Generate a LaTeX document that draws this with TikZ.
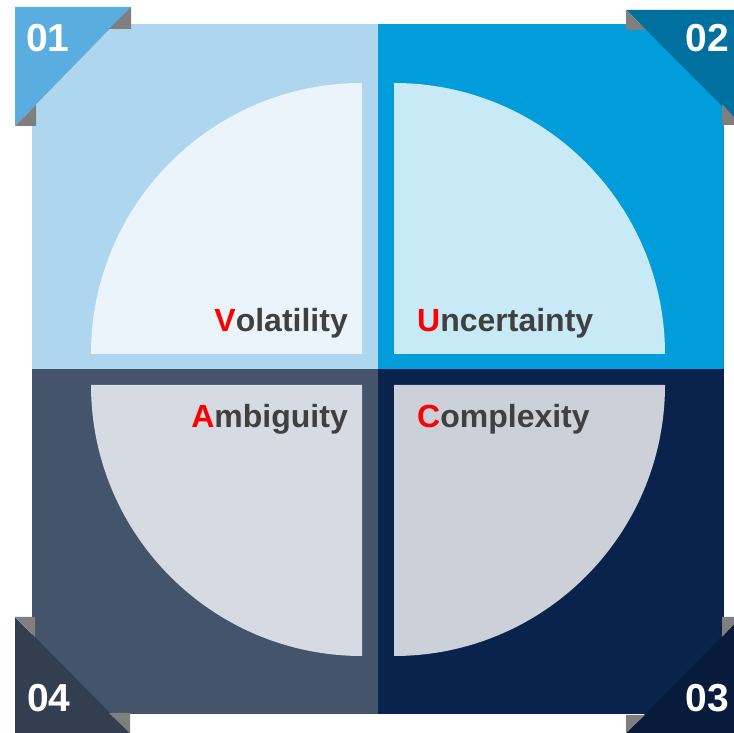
\documentclass[tikz,border=0pt]{standalone}
\usepackage{fontspec}
\setmainfont{Liberation Sans}
\usepackage{xcolor}
\definecolor{volbg}{HTML}{AED7EF}
\definecolor{volfg}{HTML}{EBF4FB}
\definecolor{volcn}{HTML}{5AAEDF}
\definecolor{uncbg}{HTML}{009DDA}
\definecolor{uncfg}{HTML}{C8E9F6}
\definecolor{unccn}{HTML}{00719F}
\definecolor{cplbg}{HTML}{0A234C}
\definecolor{cplfg}{HTML}{CBD0D9}
\definecolor{cplcn}{HTML}{081B3A}
\definecolor{ambbg}{HTML}{44546A}
\definecolor{ambfg}{HTML}{D6DAE2}
\definecolor{ambcn}{HTML}{333F50}
\definecolor{foldgray}{HTML}{7F7F7F}
\definecolor{wordgray}{HTML}{404040}
\tikzset{
  word/.style={font=\bfseries\fontsize{32}{36}\selectfont, text=wordgray, inner sep=0pt},
  num/.style={font=\bfseries\fontsize{39}{44}\selectfont, text=white, inner sep=0pt, anchor=base},
  fold/.style={fill=foldgray},
}
\newcommand{\first}[1]{\textcolor{red}{#1}}

\begin{document}
\begin{tikzpicture}[x=1pt,y=1pt]
\useasboundingbox (0,0) rectangle (734,733);
% V: upper left
\begin{scope}
\fill[volbg] (32,364) rectangle (378,709);
\fill[volfg] (362,379) -- ++(180:271) arc[start angle=180, end angle=90, radius=271] -- cycle;
\end{scope}

% U: upper right
\begin{scope}
\fill[uncbg] (378,364) rectangle (724,709);
\fill[uncfg] (394,379) -- ++(0:271) arc[start angle=0, end angle=90, radius=271] -- cycle;
\end{scope}

% C: lower right
\begin{scope}
\fill[cplbg] (378,19) rectangle (724,364);
\fill[cplfg] (394,348) -- ++(0:271) arc[start angle=0, end angle=-90, radius=271] -- cycle;
\end{scope}

% A: lower left
\begin{scope}
\fill[ambbg] (32,19) rectangle (378,364);
\fill[ambfg] (362,348) -- ++(180:271) arc[start angle=180, end angle=270, radius=271] -- cycle;
\end{scope}

% corner ribbons
\fill[volcn] (15,726) -- (131,726) -- (15,607) -- cycle;
\fill[fold] (131,726) -- (131,704) -- (109,704) -- cycle;
\fill[fold] (15,607) -- (36,607) -- (36,628) -- cycle;

\fill[unccn] (741,723) -- (626,723) -- (741,608) -- cycle;
\fill[fold] (626,723) -- (626,703) -- (646,703) -- cycle;
\fill[fold] (741,608) -- (722,608) -- (722,629) -- cycle;

\fill[cplcn] (741,0) -- (626,0) -- (741,116) -- cycle;
\fill[fold] (626,0) -- (626,18) -- (645,18) -- cycle;
\fill[fold] (741,116) -- (722,116) -- (722,96) -- cycle;

\fill[ambcn] (15,0) -- (130,0) -- (15,116) -- cycle;
\fill[fold] (130,0) -- (130,20) -- (109,20) -- cycle;
\fill[fold] (15,116) -- (35,116) -- (35,96) -- cycle;

% numbers
\node[num] (n1) at (48,681) {01};
\node[num] (n2) at (707,681) {02};
\node[num] (n3) at (707,21) {03};
\node[num] (n4) at (49,21) {04};

% words
\node[word, anchor=base east] (vol) at (348,401) {\first{V}olatility};
\node[word, anchor=base west] (unc) at (417,401) {\first{U}ncertainty};
\node[word, anchor=base east] (amb) at (348,305) {\first{A}mbiguity};
\node[word, anchor=base west] (cpl) at (417,305) {\first{C}omplexity};
\end{tikzpicture}
\end{document}
